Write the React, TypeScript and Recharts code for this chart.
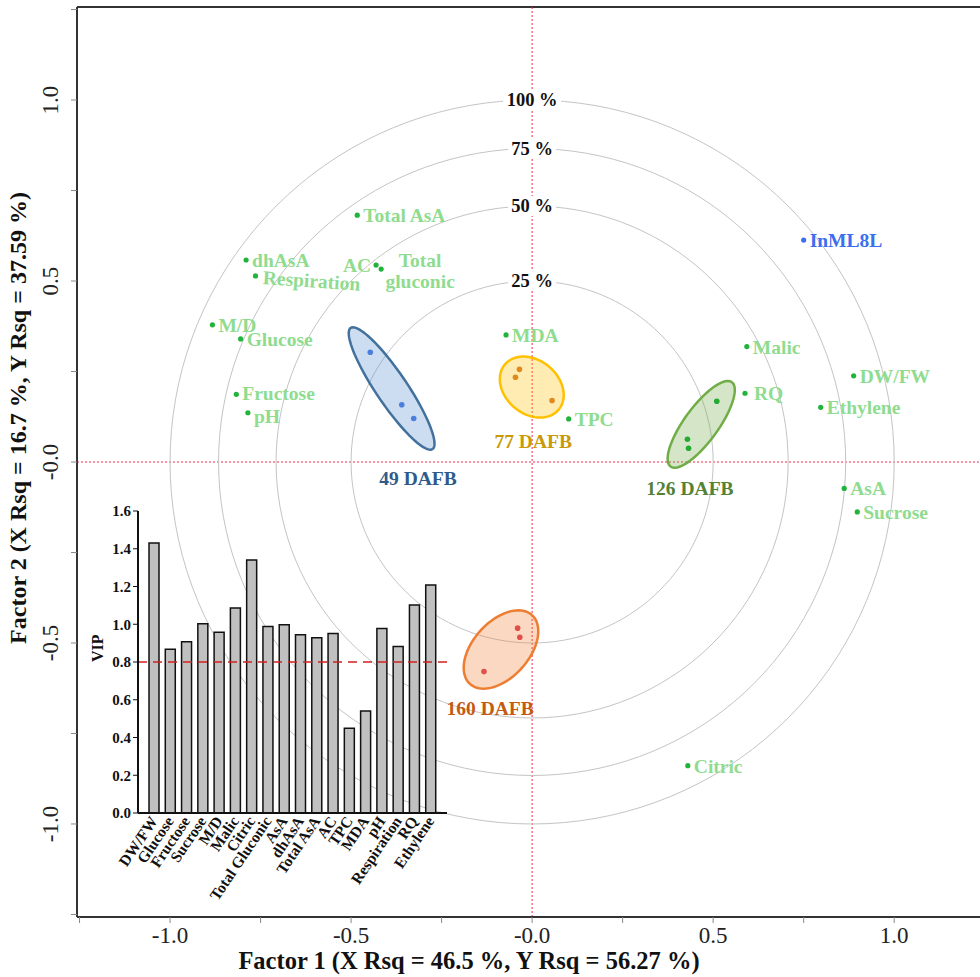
import React from "react";
import {
  ScatterChart,
  Scatter,
  XAxis,
  YAxis,
  ReferenceLine,
  Customized,
  BarChart,
  Bar,
} from "recharts";

const SERIF = '"Liberation Serif", "Times New Roman", serif';

// Loading plot: predictor variables on factor 1 / factor 2
const varNames = [
  "Total AsA", "AC", "Total gluconic", "dhAsA", "Respiration", "M/D",
  "Glucose", "Fructose", "pH", "MDA", "TPC", "Malic", "RQ", "DW/FW",
  "Ethylene", "AsA", "Sucrose", "Citric",
];
const varF1 = [
  -0.483, -0.431, -0.417, -0.79, -0.764, -0.883, -0.805, -0.817, -0.785,
  -0.072, 0.101, 0.593, 0.588, 0.888, 0.797, 0.862, 0.898, 0.43,
];
const varF2 = [
  0.682, 0.544, 0.533, 0.558, 0.514, 0.379, 0.34, 0.187, 0.136, 0.351,
  0.119, 0.319, 0.19, 0.238, 0.151, -0.073, -0.138, -0.839,
];

// Response variable
const respNames = ["InML8L"];
const respF1 = [0.75];
const respF2 = [0.613];

// Sample scores per ripening stage
const stages = ["49 DAFB", "77 DAFB", "126 DAFB", "160 DAFB"];
const scoreF1 = [
  [-0.447, -0.36, -0.327],
  [-0.035, -0.046, 0.055],
  [0.51, 0.429, 0.432],
  [-0.04, -0.034, -0.133],
];
const scoreF2 = [
  [0.303, 0.158, 0.12],
  [0.256, 0.234, 0.17],
  [0.168, 0.063, 0.038],
  [-0.459, -0.484, -0.579],
];

// Confidence ellipses: centre, semi-axes, tilt in degrees
const ellCx = [-0.388, -0.001, 0.467, -0.086];
const ellCy = [0.203, 0.207, 0.104, -0.518];
const ellA = [0.202, 0.097, 0.144, 0.128];
const ellB = [0.043, 0.074, 0.047, 0.077];
const ellTilt = [-56, -40, 54, 48];

// Where the stage names sit
const stageLabelF1 = [-0.315, 0.003, 0.436, -0.116];
const stageLabelF2 = [-0.047, 0.055, -0.075, -0.682];

// Correlation circles (% of explained variance)
const circleLevels = [25, 50, 75, 100];

const factorTicks = [-1.25, -1, -0.75, -0.5, -0.25, 0, 0.25, 0.5, 0.75, 1, 1.25];
const factorTickText = ["", "-1.0", "", "-0.5", "", "-0.0", "", "0.5", "", "1.0", ""];

// VIP inset
const vipVars = [
  "DW/FW", "Glucose", "Fructose", "Sucrose", "M/D", "Malic", "Citric",
  "Total Gluconic", "AsA", "dhAsA", "Total AsA", "AC", "TPC", "MDA", "pH",
  "Respiration", "RQ", "Ethylene",
];
const vipValues = [
  1.43, 0.868, 0.907, 1.003, 0.958, 1.086, 1.341, 0.988, 0.998, 0.945,
  0.929, 0.951, 0.449, 0.54, 0.977, 0.882, 1.102, 1.208,
];
const vipTicks = [0, 0.2, 0.4, 0.6, 0.8, 1.0, 1.2, 1.4, 1.6];
const vipCut = 0.8;

const stageStroke = ["#41719c", "#ffc000", "#70ad47", "#ed7d31"];
const stageFill = ["#5b8fd0", "#ffc000", "#70ad47", "#ed7d31"];
const stageDot = ["#4a7fdc", "#e08a1e", "#22aa33", "#e0504a"];
const stageText = ["#2f5b8a", "#c99a06", "#548235", "#c55a11"];

const VAR_TEXT = "#8fdc8f";
const VAR_DOT = "#22b33a";
const RESP = "#3b6ff0";
const LABEL_SIZE = 19.5;

// ---- geometry helpers (outline points in data units) ----
function circleOutline(level: number) {
  const r = Math.sqrt(level / 100);
  const pts = [];
  for (let k = 0; k <= 144; k++) {
    const u = (k / 144) * 2 * Math.PI;
    pts.push({ x: r * Math.cos(u), y: r * Math.sin(u) });
  }
  return pts;
}

function ellipseOutline(i: number) {
  const t = (ellTilt[i] * Math.PI) / 180;
  const pts = [];
  for (let k = 0; k <= 90; k++) {
    const u = (k / 90) * 2 * Math.PI;
    const ex = ellA[i] * Math.cos(u);
    const ey = ellB[i] * Math.sin(u);
    pts.push({
      x: ellCx[i] + ex * Math.cos(t) - ey * Math.sin(t),
      y: ellCy[i] + ex * Math.sin(t) + ey * Math.cos(t),
    });
  }
  return pts;
}

const varData = varNames.map((name, i) => ({ name, x: varF1[i], y: varF2[i] }));
const respData = respNames.map((name, i) => ({ name, x: respF1[i], y: respF2[i] }));
const levelData = circleLevels.map((lv) => ({ x: 0, y: Math.sqrt(lv / 100), name: `${lv} %` }));
const vipData = vipVars.map((name, i) => ({ name, vip: vipValues[i] }));

// label offsets (px) relative to each dot
const nudge: Record<string, { dx: number; dy: number; anchor?: string; rot?: number }> = {
  AC: { dx: -5, dy: 7, anchor: "end" },
  Respiration: { dx: 7, dy: 8, rot: 4 },
  RQ: { dx: 9, dy: 7 },
  Fructose: { dx: 6, dy: 6 },
  pH: { dx: 6, dy: 10 },
};

const Empty = () => <g />;

function VarPoint(props: any) {
  const { cx, cy, payload } = props;
  const n = nudge[payload.name] || { dx: 6, dy: 7 };
  if (payload.name === "Total gluconic") {
    return (
      <g>
        <circle cx={cx} cy={cy} r={2.6} fill={VAR_DOT} />
        <text x={cx + 39} y={cy - 2} textAnchor="middle" fontFamily={SERIF} fontWeight="bold" fontSize={LABEL_SIZE} fill={VAR_TEXT}>Total</text>
        <text x={cx + 39} y={cy + 19} textAnchor="middle" fontFamily={SERIF} fontWeight="bold" fontSize={LABEL_SIZE} fill={VAR_TEXT}>gluconic</text>
      </g>
    );
  }
  const tx = cx + n.dx;
  const ty = cy + n.dy;
  return (
    <g>
      <circle cx={cx} cy={cy} r={2.6} fill={VAR_DOT} />
      <text
        x={tx}
        y={ty}
        textAnchor={n.anchor || "start"}
        transform={n.rot ? `rotate(${n.rot}, ${tx}, ${ty})` : undefined}
        fontFamily={SERIF}
        fontWeight="bold"
        fontSize={LABEL_SIZE}
        fill={VAR_TEXT}
      >
        {payload.name}
      </text>
    </g>
  );
}

function RespPoint(props: any) {
  const { cx, cy, payload } = props;
  return (
    <g>
      <circle cx={cx} cy={cy} r={2.6} fill={RESP} />
      <text x={cx + 6} y={cy + 7} fontFamily={SERIF} fontWeight="bold" fontSize={LABEL_SIZE} fill={RESP}>
        {payload.name}
      </text>
    </g>
  );
}

function LevelLabel(props: any) {
  const { cx, cy, payload } = props;
  const w = payload.name.length * 10 + 8;
  return (
    <g>
      <rect x={cx - w / 2} y={cy - 10} width={w} height={20} fill="#fff" />
      <text x={cx} y={cy + 6} textAnchor="middle" fontFamily={SERIF} fontWeight="bold" fontSize={18.5} fill="#111">
        {payload.name}
      </text>
    </g>
  );
}

function makeDot(color: string) {
  return (props: any) => <circle cx={props.cx} cy={props.cy} r={2.8} fill={color} />;
}

function makeStageLabel(color: string) {
  return (props: any) => (
    <text x={props.cx} y={props.cy + 6} textAnchor="middle" fontFamily={SERIF} fontWeight="bold" fontSize={19.5} fill={color}>
      {props.payload.name}
    </text>
  );
}

function XTick(props: any) {
  const { x, y, payload } = props;
  const txt = factorTickText[factorTicks.indexOf(payload.value)] || "";
  return (
    <text x={x} y={y + 18} textAnchor="middle" fontFamily={SERIF} fontSize={23} fill="#222">
      {txt}
    </text>
  );
}

function YTick(props: any) {
  const { x, y, payload } = props;
  const txt = factorTickText[factorTicks.indexOf(payload.value)] || "";
  const bx = x - 11;
  return (
    <text x={bx} y={y} transform={`rotate(-90, ${bx}, ${y})`} textAnchor="middle" fontFamily={SERIF} fontSize={23} fill="#222">
      {txt}
    </text>
  );
}

function AxisTitles() {
  return (
    <g fontFamily={SERIF} fontWeight="bold" fill="#111">
      <text x={469} y={969} textAnchor="middle" fontSize={24.5}>
        Factor 1 (X Rsq = 46.5 %, Y Rsq = 56.27 %)
      </text>
      <text x={26} y={418} textAnchor="middle" fontSize={24} transform="rotate(-90, 26, 418)">
        Factor 2 (X Rsq = 16.7 %, Y Rsq = 37.59 %)
      </text>
    </g>
  );
}

function VipTick(props: any) {
  const { x, y, payload } = props;
  const ax = x + 4;
  const ay = y + 2;
  return (
    <text x={ax} y={ay} transform={`rotate(-56, ${ax}, ${ay})`} textAnchor="end" fontFamily={SERIF} fontWeight="bold" fontSize={15.5} fill="#111">
      {payload.value}
    </text>
  );
}

function VipInset() {
  return (
    <BarChart width={380} height={420} data={vipData} margin={{ top: 11, right: 13, left: 0, bottom: 0 }}>
      <XAxis
        dataKey="name"
        type="category"
        interval={0}
        height={107}
        padding={{ left: 8, right: 8 }}
        tickLine={false}
        tickSize={4}
        axisLine={{ stroke: "#111", strokeWidth: 2 }}
        tick={<VipTick />}
      />
      <YAxis
        type="number"
        domain={[0, 1.6]}
        ticks={vipTicks}
        width={58}
        tickSize={5}
        tickLine={{ stroke: "#111" }}
        axisLine={{ stroke: "#111", strokeWidth: 2 }}
        tickFormatter={(v: number) => v.toFixed(1)}
        tick={{ fontFamily: SERIF, fontWeight: "bold", fontSize: 15, fill: "#111" }}
        label={{ value: "VIP", angle: -90, position: "insideLeft", offset: 17, style: { fontFamily: SERIF, fontWeight: "bold", fontSize: 16, fill: "#111" } }}
      />
      <Bar dataKey="vip" fill="#c0c0c0" stroke="#111" strokeWidth={1.5} barSize={10} isAnimationActive={false} />
      <ReferenceLine y={vipCut} stroke="#d42020" strokeWidth={1.5} strokeDasharray="9 6" />
    </BarChart>
  );
}

export default function App() {
  return (
    <div style={{ position: "relative", width: 980, height: 977, background: "#fff", overflow: "hidden" }}>
      <style>{"body{margin:0}"}</style>
      <ScatterChart width={980} height={977} margin={{ top: 7, right: 0, bottom: 0, left: 0 }}>
        <XAxis
          type="number"
          dataKey="x"
          domain={[-1.257, 1.237]}
          ticks={factorTicks}
          allowDataOverflow
          height={60}
          tickSize={6}
          tickLine={{ stroke: "#888" }}
          axisLine={{ stroke: "#333", strokeWidth: 2 }}
          tick={<XTick />}
        />
        <YAxis
          type="number"
          dataKey="y"
          domain={[-1.257, 1.257]}
          ticks={factorTicks}
          allowDataOverflow
          width={77}
          tickSize={6}
          tickLine={{ stroke: "#888" }}
          axisLine={{ stroke: "#333", strokeWidth: 2 }}
          tick={<YTick />}
        />
        <ReferenceLine y={1.257} stroke="#333" strokeWidth={2} />

        {circleLevels.map((lv) => (
          <Scatter
            key={`c${lv}`}
            data={circleOutline(lv)}
            line={{ stroke: "#c4c4c4", strokeWidth: 1, fill: "none" }}
            shape={Empty}
            isAnimationActive={false}
          />
        ))}
        <Scatter data={levelData} shape={LevelLabel} isAnimationActive={false} />

        {stages.map((s, i) => (
          <Scatter
            key={`e${s}`}
            data={ellipseOutline(i)}
            line={{ stroke: stageStroke[i], strokeWidth: 2.5, fill: stageFill[i], fillOpacity: 0.3 }}
            shape={Empty}
            isAnimationActive={false}
          />
        ))}

        <ReferenceLine x={0} stroke="#f02848" strokeWidth={1} strokeDasharray="2 2" />
        <ReferenceLine y={0} stroke="#f02848" strokeWidth={1} strokeDasharray="2 2" />

        {stages.map((s, i) => (
          <Scatter
            key={`p${s}`}
            data={scoreF1[i].map((v, k) => ({ x: v, y: scoreF2[i][k] }))}
            shape={makeDot(stageDot[i])}
            isAnimationActive={false}
          />
        ))}
        {stages.map((s, i) => (
          <Scatter
            key={`l${s}`}
            data={[{ x: stageLabelF1[i], y: stageLabelF2[i], name: s }]}
            shape={makeStageLabel(stageText[i])}
            isAnimationActive={false}
          />
        ))}

        <Scatter data={varData} shape={VarPoint} isAnimationActive={false} />
        <Scatter data={respData} shape={RespPoint} isAnimationActive={false} />
        <Customized component={<AxisTitles />} />
      </ScatterChart>
      <div style={{ position: "absolute", left: 80, top: 500, width: 380, height: 420 }}>
        <VipInset />
      </div>
    </div>
  );
}
